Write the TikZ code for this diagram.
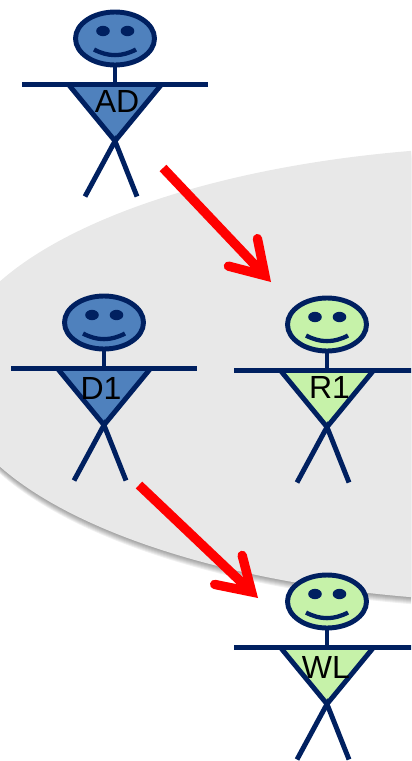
\documentclass[tikz,border=0pt]{standalone}
\usepackage{fontspec}
\setmainfont{Liberation Sans}
\usetikzlibrary{arrows.meta}
\definecolor{navy}{HTML}{002060}
\definecolor{manblue}{HTML}{4F81BD}
\definecolor{mangreen}{HTML}{C6F2A9}
\definecolor{zonegray}{HTML}{E8E8E8}
\tikzset{
  manline/.style={draw=navy,line width=3.7pt},
  manlabel/.style={inner sep=0pt,text=black,font=\fontsize{24}{24}\selectfont},
  flow/.style={draw=red,line width=7pt,
    -{Straight Barb[length=24pt,width=30pt,line width=7pt,line cap=round,line join=miter]}},
}
% #1 name, #2 head centre, #3 fill, #4 label, #5 label offset
\newcommand\stickman[5]{%
  \begin{scope}[shift={(#2)}]
    \path[manline,fill=#3,line join=round] (-46.5,46) -- (46.5,46) -- (0,102.5) -- cycle;
    \draw[manline] (0,26) -- (0,46);
    \draw[manline] (-93,46) -- (93,46);
    \draw[manline] (-30,158) -- (0,102.5) -- (22,158);
    \path[manline,fill=#3] (0,0) ellipse [x radius=39.5,y radius=26.5];
    \fill[navy] (-12,-7.5) ellipse [x radius=6.8,y radius=5.2];
    \fill[navy] (12.5,-7.5) ellipse [x radius=6.8,y radius=5.2];
    \draw[navy,line width=3.2pt] (-21,11) .. controls (-7,18.5) and (7,18.5) .. (21,11);
    \node[manlabel] (#1) at (#5) {#4};
  \end{scope}}
\begin{document}
\begin{tikzpicture}[x=0.75pt,y=-0.75pt]
  \useasboundingbox (0,0) rectangle (411,761);
  \clip (0,0) rectangle (411,761);
  \foreach \k in {7,6,5,4,3,2,1}
    \fill[black,opacity=0.06] (531,374+\k) ellipse [x radius=581,y radius=228];
  \fill[zonegray] (531,374) ellipse [x radius=581,y radius=228];
  \stickman{ad}{115,38.5}{manblue}{AD}{2,63}
  \stickman{done}{104,322.5}{manblue}{D1}{-3,65.5}
  \stickman{rone}{327,324.5}{mangreen}{R1}{2.5,62.5}
  \stickman{wl}{327,601.5}{mangreen}{WL}{-1.2,65.5}
  \coordinate (a1s) at (163,168);
  \coordinate (a1e) at (271,282);
  \coordinate (a2s) at (139,485);
  \coordinate (a2e) at (258,598);
  \draw[flow] (a1s) -- (a1e);
  \draw[flow] (a2s) -- (a2e);
\end{tikzpicture}
\end{document}
